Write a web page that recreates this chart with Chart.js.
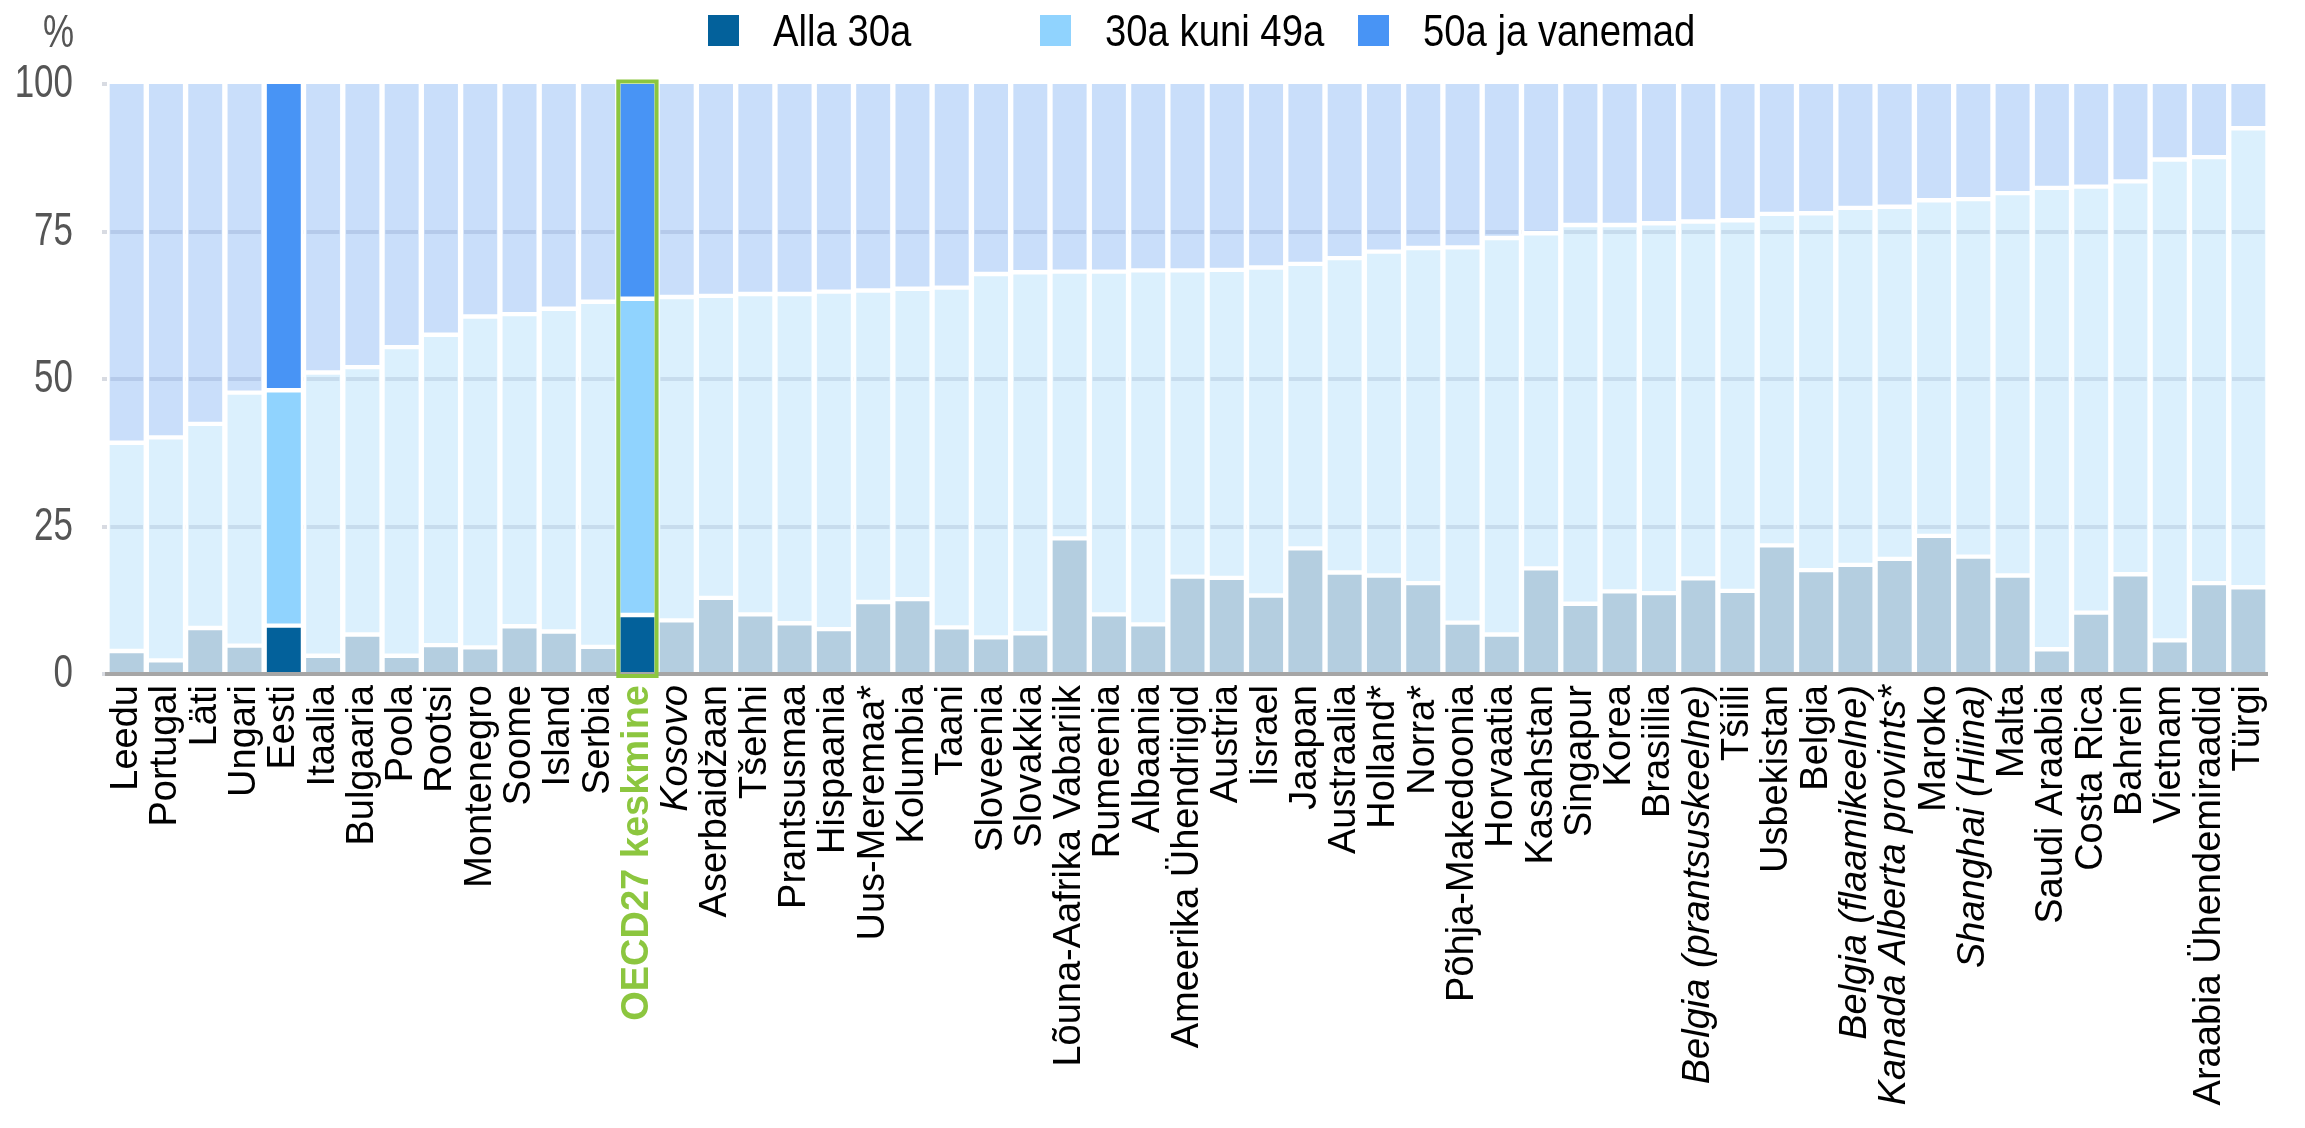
<!DOCTYPE html>
<html>
<head>
<meta charset="utf-8">
<script src="https://cdn.jsdelivr.net/npm/chart.js@4.4.1/dist/chart.umd.min.js"></script>
<style>
  html, body { margin: 0; padding: 0; background: #fff; }
  canvas { display: block; }
</style>
</head>
<body>
<canvas id="chart" width="2305" height="1128"></canvas>
<script>
const categories = [
  "Leedu", "Portugal", "Läti", "Ungari", "Eesti", "Itaalia", "Bulgaaria", "Poola", "Rootsi",
  "Montenegro", "Soome", "Island", "Serbia", "OECD27 keskmine", "Kosovo", "Aserbaidžaan",
  "Tšehhi", "Prantsusmaa", "Hispaania", "Uus-Meremaa*", "Kolumbia", "Taani", "Sloveenia",
  "Slovakkia", "Lõuna-Aafrika Vabariik", "Rumeenia", "Albaania", "Ameerika Ühendriigid",
  "Austria", "Iisrael", "Jaapan", "Austraalia", "Holland*", "Norra*", "Põhja-Makedoonia",
  "Horvaatia", "Kasahstan", "Singapur", "Korea", "Brasiilia", "Belgia (prantsuskeelne)",
  "Tšiili", "Usbekistan", "Belgia", "Belgia (flaamikeelne)", "Kanada Alberta provints*",
  "Maroko", "Shanghai (Hiina)", "Malta", "Saudi Araabia", "Costa Rica", "Bahrein",
  "Vietnam", "Araabia Ühendemiraadid", "Türgi"
]

const under30 = [
  3.9, 2.3, 7.8, 4.8, 8.2, 3.1, 6.7, 3.1, 4.9, 4.5, 8.1, 7.2, 4.6, 10.0, 9.1, 12.9,
  10.1, 8.6, 7.6, 12.2, 12.7, 7.9, 6.2, 6.9, 23.0, 10.1, 8.4, 16.5, 16.3, 13.3, 21.3,
  17.2, 16.7, 15.4, 8.7, 6.7, 17.9, 11.9, 14.0, 13.7, 16.2, 14.1, 21.8, 17.6, 18.5,
  19.5, 23.4, 19.9, 16.7, 4.2, 10.4, 16.9, 5.7, 15.4, 14.7
]

const from30to49 = [
  35.3, 37.8, 34.6, 42.9, 39.9, 48.0, 45.3, 52.3, 52.6, 56.1, 52.9, 54.7, 58.5, 53.6, 54.8, 51.2,
  54.3, 55.8, 57.2, 52.8, 52.6, 57.6, 61.6, 61.2, 45.2, 58.1, 60.0, 51.9, 52.2, 55.6, 48.2,
  53.3, 54.9, 56.8, 63.6, 67.2, 56.8, 64.2, 62.1, 62.7, 60.5, 62.8, 56.2, 60.5, 60.5,
  59.7, 56.9, 60.6, 64.8, 78.2, 72.2, 66.6, 81.5, 72.2, 77.8
]

const over50 = [
  60.8, 59.9, 57.6, 52.3, 51.9, 48.9, 48.0, 44.6, 42.5, 39.4, 39.0, 38.1, 36.9, 36.4, 36.1, 35.9,
  35.6, 35.6, 35.2, 35.0, 34.7, 34.5, 32.2, 31.9, 31.8, 31.8, 31.6, 31.6, 31.5, 31.1, 30.5,
  29.5, 28.4, 27.8, 27.7, 26.1, 25.3, 23.9, 23.9, 23.6, 23.3, 23.1, 22.0, 21.9, 21.0,
  20.8, 19.7, 19.5, 18.5, 17.6, 17.4, 16.5, 12.8, 12.4, 7.5
]

const seriesLabels = ["Alla 30a", "30a kuni 49a", "50a ja vanemad"]
const yTicks = [0, 25, 50, 75, 100]
const unitLabel = "%"
const highlighted = ["Eesti", "OECD27 keskmine"]
const averageLabel = "OECD27 keskmine"
const italicLabels = ["Kosovo", "Belgia (prantsuskeelne)", "Belgia (flaamikeelne)", "Kanada Alberta provints*", "Shanghai (Hiina)"]

const strongColors = ["#03619b", "#90d3fe", "#4894f5"]
const softColors = ["rgba(155,190,214,0.75)", "rgba(207,235,252,0.75)", "rgba(183,211,248,0.75)"]
const green = "#8cc63f"
const sans = '"Liberation Sans", Arial, sans-serif'

const borders = [
  { left: 3, right: 3, top: 2.5, bottom: 0 },
  { left: 3, right: 3, top: 2.5, bottom: 2.5 },
  { left: 3, right: 3, top: 0, bottom: 2.5 }
]

const makeDataset = (data, i) => ({
  label: seriesLabels[i],
  data,
  backgroundColor: (ctx) => highlighted.includes(categories[ctx.dataIndex]) ? strongColors[i] : softColors[i],
  borderColor: "#ffffff",
  borderWidth: borders[i],
  borderSkipped: false,
  barPercentage: 1,
  categoryPercentage: 1
})

// no narrow font installed, so squeeze Liberation Sans horizontally
const narrowText = (ctx, text, x, y, size, squeeze, align) => {
  ctx.save()
  ctx.translate(x, y)
  ctx.scale(squeeze, 1)
  ctx.font = size + "px " + sans
  ctx.textAlign = align
  ctx.textBaseline = "alphabetic"
  ctx.fillText(text, 0, 0)
  ctx.restore()
}

// legend, y labels, "%" unit and the green frame round the OECD average
const extras = {
  id: "extras",
  afterDatasetsDraw(chart) {
    const { ctx, scales: { x, y } } = chart
    const i = categories.indexOf(averageLabel)
    const half = (x.getPixelForValue(1) - x.getPixelForValue(0)) / 2
    const cx = x.getPixelForValue(i)
    const top = y.getPixelForValue(100) - 2.5
    const bottom = y.getPixelForValue(0) + 2
    ctx.save()
    ctx.strokeStyle = green
    ctx.lineWidth = 4
    ctx.strokeRect(cx - half + 0.5, top, 2 * half - 1, bottom - top)
    ctx.restore()
  },
  afterDraw(chart) {
    const ctx = chart.ctx
    const y = chart.scales.y
    ctx.save()
    ctx.fillStyle = "#555555"
    narrowText(ctx, unitLabel, 74, 47, 46, 0.76, "right")
    yTicks.forEach(v => narrowText(ctx, String(v), 73, y.getPixelForValue(v) + 13, 46, 0.76, "right"))

    const boxX = [708, 1040, 1358]
    seriesLabels.forEach((label, k) => {
      ctx.fillStyle = strongColors[k]
      ctx.fillRect(boxX[k], 15, 31, 31)
      ctx.fillStyle = "#000000"
      narrowText(ctx, label, boxX[k] + 65, 46, 44, 0.87, "left")
    })
    ctx.restore()
  }
}

new Chart(document.getElementById("chart"), {
  type: "bar",
  data: {
    labels: categories,
    datasets: [under30, from30to49, over50].map(makeDataset)
  },
  plugins: [extras],
  options: {
    responsive: false,
    animation: false,
    devicePixelRatio: 1,
    events: [],
    layout: { padding: { top: 84, right: 6, left: 0, bottom: 0 } },
    plugins: {
      legend: { display: false },
      tooltip: { enabled: false }
    },
    scales: {
      x: {
        stacked: true,
        z: 1,
        grid: { display: false, drawTicks: false },
        border: { display: true, color: "#a6a6a6", width: 4 },
        afterFit: (scale) => { scale.height = 454 },
        ticks: {
          autoSkip: false,
          maxRotation: 90,
          minRotation: 90,
          padding: 11,
          color: (ctx) => categories[ctx.index] === averageLabel ? green : "#000000",
          font: (ctx) => ({
            family: sans,
            size: 38,
            weight: categories[ctx.index] === averageLabel ? "bold" : "normal",
            style: italicLabels.includes(categories[ctx.index]) ? "italic" : "normal"
          })
        }
      },
      y: {
        stacked: true,
        min: 0,
        max: 100,
        afterBuildTicks: (scale) => { scale.ticks = yTicks.map(v => ({ value: v })) },
        afterFit: (scale) => { scale.width = 107 },
        grid: {
          color: (ctx) => ctx.tick && (ctx.tick.value === 0 || ctx.tick.value === 100) ? "rgba(0,0,0,0)" : "#afb1be",
          tickColor: "#d8dbe2",
          lineWidth: 4,
          drawTicks: true,
          tickLength: 5
        },
        border: { display: false },
        ticks: { display: false }
      }
    }
  }
})
</script>
</body>
</html>
